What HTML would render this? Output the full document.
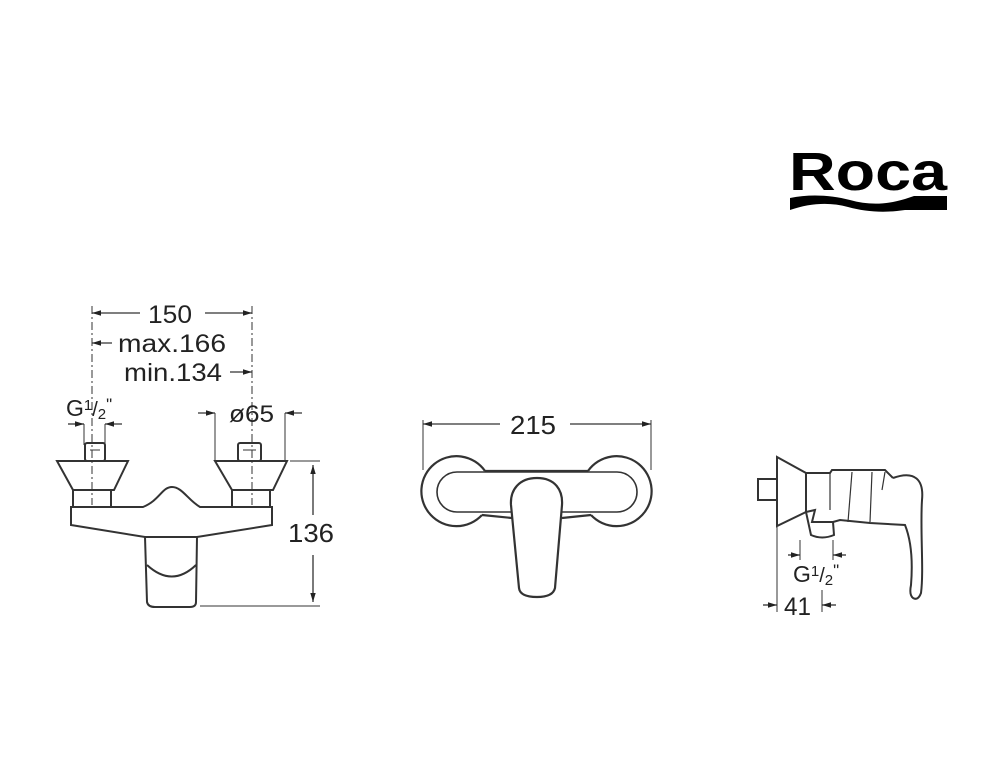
<!DOCTYPE html>
<html><head><meta charset="utf-8"><style>
html,body{margin:0;padding:0;background:#fff;}
svg{display:block;}
text{font-family:"Liberation Sans",sans-serif;fill:#222;}
</style></head><body>
<svg width="998" height="781" viewBox="0 0 998 781" xmlns="http://www.w3.org/2000/svg">
<defs>
<marker id="a" viewBox="0 0 10 10" refX="10" refY="5" markerWidth="7" markerHeight="7" orient="auto-start-reverse"><path d="M0,2 L10,5 L0,8 z" fill="#222"/></marker>
</defs>
<!-- Logo -->
<text x="789" y="190" font-size="54" font-weight="bold" textLength="158" lengthAdjust="spacingAndGlyphs" style="fill:#000">Roca</text>
<path d="M790,198 C810,194 830,195 850,200 C868,205 885,205 905,199 L914,196 L947,196 L947,210 L905,210 C885,213 866,212 848,207 C830,202 810,203 790,210 Z" fill="#000"/>

<g stroke="#333" fill="none" stroke-width="1.3">
<!-- LEFT VIEW dimensions -->
<line x1="92" y1="313" x2="140" y2="313" marker-start="url(#a)"/>
<line x1="205" y1="313" x2="252" y2="313" marker-end="url(#a)"/>
<line x1="92" y1="343" x2="112" y2="343" marker-start="url(#a)"/>
<line x1="230" y1="372" x2="252" y2="372" marker-end="url(#a)"/>
<line x1="92" y1="306" x2="92" y2="505" stroke-dasharray="8,3,2,3" stroke-width="1"/>
<line x1="252" y1="306" x2="252" y2="505" stroke-dasharray="8,3,2,3" stroke-width="1"/>
<line x1="68" y1="424" x2="84" y2="424" marker-end="url(#a)"/>
<line x1="122" y1="424" x2="105" y2="424" marker-end="url(#a)"/>
<line x1="84" y1="424" x2="84" y2="445" stroke-width="1"/>
<line x1="105" y1="424" x2="105" y2="445" stroke-width="1"/>
<line x1="198" y1="413" x2="215" y2="413" marker-end="url(#a)"/>
<line x1="302" y1="413" x2="285" y2="413" marker-end="url(#a)"/>
<line x1="215" y1="413" x2="215" y2="460" stroke-width="1"/>
<line x1="285" y1="413" x2="285" y2="460" stroke-width="1"/>
<line x1="290" y1="461" x2="320" y2="461" stroke-width="1"/>
<line x1="200" y1="606" x2="320" y2="606" stroke-width="1"/>
<line x1="313" y1="465" x2="313" y2="515" marker-start="url(#a)"/>
<line x1="313" y1="555" x2="313" y2="602" marker-end="url(#a)"/>

<!-- left faucet -->
<g stroke-width="2">
<rect x="85" y="443" width="20" height="18" rx="2"/>
<path d="M57,461 L128,461 L114,490 L73,490 Z"/>
<rect x="73" y="490" width="38" height="17"/>
<rect x="238" y="443" width="23" height="18" rx="2"/>
<path d="M215,461 L287,461 L273,490 L232,490 Z"/>
<rect x="232" y="490" width="38" height="17"/>
<path d="M71,507 L143,507 C160,500 162,487 172,487 C182,487 188,500 200,507 L272,507 L272,525 L197,537 L145,537 L71,525 Z"/>
<path d="M145,537 L147,602 Q148,607 155,607 L190,607 Q196,607 196,602 L197,537"/>
<path d="M147,565 Q172,588 196,565"/>
</g>
<line x1="90" y1="450" x2="100" y2="450" stroke-width="1"/>
<line x1="243" y1="450" x2="256" y2="450" stroke-width="1"/>

<!-- MIDDLE VIEW -->
<line x1="423" y1="424" x2="500" y2="424" marker-start="url(#a)"/>
<line x1="570" y1="424" x2="651" y2="424" marker-end="url(#a)"/>
<line x1="423" y1="420" x2="423" y2="470" stroke-width="1"/>
<line x1="651" y1="420" x2="651" y2="470" stroke-width="1"/>
<g stroke-width="2.2">
<path d="M485,471 A35,35 0 1 0 482,515"/>
<path d="M588,471 A35,35 0 1 1 591,515"/>
<line x1="485" y1="471" x2="588" y2="471"/>
<line x1="482" y1="515" x2="512" y2="518"/>
<line x1="562" y1="518" x2="591" y2="515"/>
<rect x="437" y="472" width="200" height="40" rx="20" stroke-width="1.6"/>
<path d="M537,478 C555,478 563,490 562,505 L555,588 Q553,597 537,597 Q520,597 519,588 L511,505 C510,490 519,478 537,478 Z" fill="#fff"/>
</g>

<!-- RIGHT VIEW -->
<g stroke-width="2">
<rect x="758" y="479" width="19" height="21"/>
<path d="M777,457 L806,473 L806,512 L777,526 Z"/>
<path d="M806,473 L830,473 L832,470 L885,470 L893,478"/>
<path d="M893,478 C915,470 924,480 922,500 C920,530 924,570 921,593 Q918,601 913,598 Q909,595 911,585 C913,560 911,540 905,525 L870,523 L840,520 L833,522"/>
<path d="M806,512 L815,510 L812,522 L833,522 L834,535 Q822,540 811,535 Z"/>
<line x1="830" y1="473" x2="830" y2="510" stroke-width="1.2"/>
<line x1="852" y1="472" x2="848" y2="522" stroke-width="1.2"/>
<line x1="872" y1="472" x2="870" y2="522" stroke-width="1.2"/>
<line x1="885" y1="472" x2="882" y2="490" stroke-width="1.2"/>
</g>
<line x1="788" y1="555" x2="800" y2="555" marker-end="url(#a)"/>
<line x1="846" y1="555" x2="833" y2="555" marker-end="url(#a)"/>
<line x1="800" y1="540" x2="800" y2="560" stroke-width="1"/>
<line x1="833" y1="540" x2="833" y2="560" stroke-width="1"/>
<line x1="777" y1="527" x2="777" y2="612" stroke-width="1"/>
<line x1="822" y1="590" x2="822" y2="612" stroke-width="1"/>
<line x1="763" y1="605" x2="777" y2="605" marker-end="url(#a)"/>
<line x1="836" y1="605" x2="822" y2="605" marker-end="url(#a)"/>
</g>

<g font-size="25">
<text x="148" y="323" textLength="44" lengthAdjust="spacingAndGlyphs">150</text>
<text x="118" y="352" textLength="108" lengthAdjust="spacingAndGlyphs">max.166</text>
<text x="124" y="381" textLength="98" lengthAdjust="spacingAndGlyphs">min.134</text>
<text x="229" y="422" font-size="24" textLength="45" lengthAdjust="spacingAndGlyphs">ø65</text>
<text x="288" y="542" font-size="26" textLength="46" lengthAdjust="spacingAndGlyphs">136</text>
<text x="510" y="434" font-size="26" textLength="46" lengthAdjust="spacingAndGlyphs">215</text>
<text x="784" y="615" textLength="27" lengthAdjust="spacingAndGlyphs">41</text>
</g>
<text x="66" y="416" font-size="23">G<tspan font-size="15" dy="-6">1</tspan><tspan font-size="20" dy="6">/</tspan><tspan font-size="15" dy="3">2</tspan><tspan font-size="17" dy="-9">"</tspan></text>
<text x="793" y="582" font-size="23">G<tspan font-size="15" dy="-6">1</tspan><tspan font-size="20" dy="6">/</tspan><tspan font-size="15" dy="3">2</tspan><tspan font-size="17" dy="-9">"</tspan></text>
</svg>
</body></html>
